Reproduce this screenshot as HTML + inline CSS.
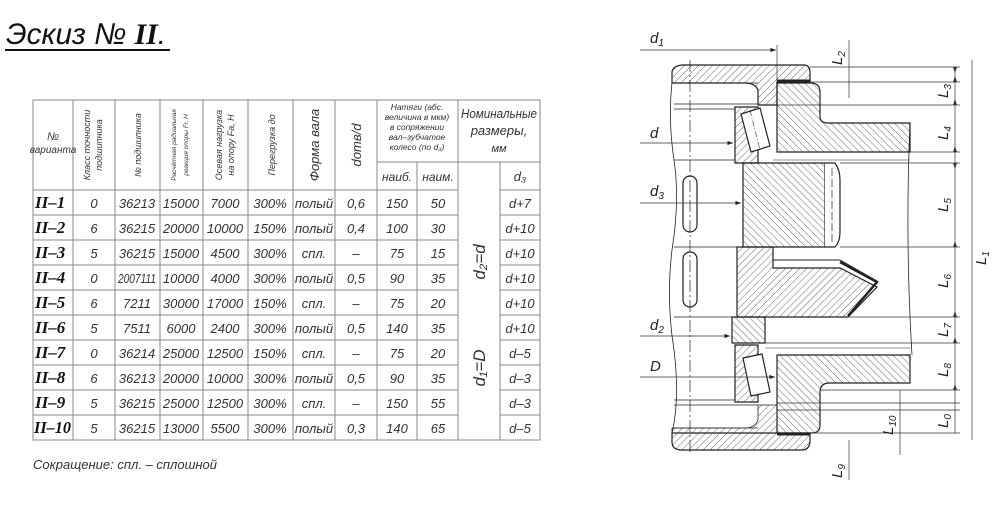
<!DOCTYPE html>
<html><head><meta charset="utf-8"><style>
html,body{margin:0;padding:0;background:#fff;}
svg{display:block;font-family:"Liberation Sans","DejaVu Sans",sans-serif;}
.h{font-style:italic;fill:#333;text-anchor:middle;}
.r{font-family:"Liberation Serif",serif;font-weight:bold;font-style:italic;font-size:17px;fill:#111;text-anchor:start;}
</style></head><body>
<svg width="1000" height="509" viewBox="0 0 1000 509" xmlns="http://www.w3.org/2000/svg">
<defs>
<pattern id="ha" width="5" height="5" patternUnits="userSpaceOnUse" patternTransform="rotate(45)"><line x1="0" y1="0" x2="0" y2="5" stroke="#444" stroke-width="0.8"/></pattern>
<pattern id="hb" width="5" height="5" patternUnits="userSpaceOnUse" patternTransform="rotate(-45)"><line x1="0" y1="0" x2="0" y2="5" stroke="#444" stroke-width="0.8"/></pattern>
<marker id="ar" markerWidth="8" markerHeight="6" refX="8" refY="3" orient="auto"><path d="M0,0 L8,3 L0,6z" fill="#222"/></marker>
</defs>
<!-- Title -->
<text x="6" y="44" font-style="italic" font-size="30" fill="#111" textLength="160" lengthAdjust="spacingAndGlyphs">Эскиз № <tspan font-family="Liberation Serif" font-weight="bold">II</tspan>.</text>
<line x1="5" y1="50" x2="170" y2="50" stroke="#111" stroke-width="2"/>

<!-- Table -->
<g stroke="#888" stroke-width="1" fill="none">
<rect x="33" y="100" width="507" height="340"/>
<line x1="73" y1="100" x2="73" y2="440"/><line x1="115" y1="100" x2="115" y2="440"/>
<line x1="160" y1="100" x2="160" y2="440"/><line x1="203" y1="100" x2="203" y2="440"/>
<line x1="248" y1="100" x2="248" y2="440"/><line x1="293" y1="100" x2="293" y2="440"/>
<line x1="335" y1="100" x2="335" y2="440"/><line x1="377" y1="100" x2="377" y2="440"/>
<line x1="417" y1="162" x2="417" y2="440"/><line x1="458" y1="100" x2="458" y2="440"/>
<line x1="500" y1="162" x2="500" y2="440"/>
<line x1="377" y1="162" x2="540" y2="162"/>
<line x1="33" y1="190" x2="458" y2="190"/><line x1="500" y1="190" x2="540" y2="190"/>
<line x1="33" y1="215" x2="458" y2="215"/><line x1="500" y1="215" x2="540" y2="215"/>
<line x1="33" y1="240" x2="458" y2="240"/><line x1="500" y1="240" x2="540" y2="240"/>
<line x1="33" y1="265" x2="458" y2="265"/><line x1="500" y1="265" x2="540" y2="265"/>
<line x1="33" y1="290" x2="458" y2="290"/><line x1="500" y1="290" x2="540" y2="290"/>
<line x1="33" y1="315" x2="458" y2="315"/><line x1="500" y1="315" x2="540" y2="315"/>
<line x1="33" y1="340" x2="458" y2="340"/><line x1="500" y1="340" x2="540" y2="340"/>
<line x1="33" y1="365" x2="458" y2="365"/><line x1="500" y1="365" x2="540" y2="365"/>
<line x1="33" y1="390" x2="458" y2="390"/><line x1="500" y1="390" x2="540" y2="390"/>
<line x1="33" y1="415" x2="458" y2="415"/><line x1="500" y1="415" x2="540" y2="415"/>
</g>
<!-- headers -->
<text class="h" font-size="11" x="53" y="140">№</text>
<text class="h" font-size="10" x="53" y="153">варианта</text>
<text class="h" font-size="9" transform="translate(90,145) rotate(-90)">Класс точности</text>
<text class="h" font-size="9" transform="translate(102,145) rotate(-90)">подшипника</text>
<text class="h" font-size="9" transform="translate(141,145) rotate(-90)">№ подшипника</text>
<text class="h" font-size="6.5" transform="translate(176,145) rotate(-90)">Расчётная радиальная</text>
<text class="h" font-size="6.5" transform="translate(188,145) rotate(-90)">реакция опоры Fr, Н</text>
<text class="h" font-size="9" transform="translate(222,145) rotate(-90)">Осевая нагрузка</text>
<text class="h" font-size="9" transform="translate(234,145) rotate(-90)">на опору Fa, Н</text>
<text class="h" font-size="9" transform="translate(275,145) rotate(-90)">Перегрузка до</text>
<text class="h" font-size="13" transform="translate(319,145) rotate(-90)">Форма вала</text>
<text class="h" font-size="13" transform="translate(361,145) rotate(-90)">dотв/d</text>
<text class="h" font-size="8.5" x="417" y="110">Натяги (абс.</text>
<text class="h" font-size="8.5" x="417" y="120">величина в мкм)</text>
<text class="h" font-size="8.5" x="417" y="130">в сопряжении</text>
<text class="h" font-size="8.5" x="417" y="140">вал–зубчатое</text>
<text class="h" font-size="8.5" x="417" y="150">колесо (по d₃)</text>
<text class="h" font-size="13" x="499" y="118" textLength="76" lengthAdjust="spacingAndGlyphs">Номинальные</text>
<text class="h" font-size="13" x="499" y="135">размеры,</text>
<text class="h" font-size="11" x="499" y="152">мм</text>
<text class="h" font-size="12" x="397" y="181">наиб.</text>
<text class="h" font-size="12" x="438" y="181">наим.</text>
<text class="h" font-size="13" x="520" y="181">d₃</text>
<text class="h" font-size="17" transform="translate(485,262) rotate(-90)">d₂=d</text>
<text class="h" font-size="17" transform="translate(485,368) rotate(-90)">d₁=D</text>

<g font-style="italic" font-size="13" fill="#333" text-anchor="middle">
<text class="r" x="35" y="208">II–1</text><text x="94" y="208">0</text><text x="137" y="208">36213</text><text x="181" y="208">15000</text><text x="225" y="208">7000</text><text x="270" y="208">300%</text><text x="314" y="208">полый</text><text x="356" y="208">0,6</text><text x="397" y="208">150</text><text x="438" y="208">50</text><text x="520" y="208">d+7</text>
<text class="r" x="35" y="233">II–2</text><text x="94" y="233">6</text><text x="137" y="233">36215</text><text x="181" y="233">20000</text><text x="225" y="233">10000</text><text x="270" y="233">150%</text><text x="314" y="233">полый</text><text x="356" y="233">0,4</text><text x="397" y="233">100</text><text x="438" y="233">30</text><text x="520" y="233">d+10</text>
<text class="r" x="35" y="258">II–3</text><text x="94" y="258">5</text><text x="137" y="258">36215</text><text x="181" y="258">15000</text><text x="225" y="258">4500</text><text x="270" y="258">300%</text><text x="314" y="258">спл.</text><text x="356" y="258">–</text><text x="397" y="258">75</text><text x="438" y="258">15</text><text x="520" y="258">d+10</text>
<text class="r" x="35" y="283">II–4</text><text x="94" y="283">0</text><text x="137" y="283" textLength="38" lengthAdjust="spacingAndGlyphs">2007111</text><text x="181" y="283">10000</text><text x="225" y="283">4000</text><text x="270" y="283">300%</text><text x="314" y="283">полый</text><text x="356" y="283">0,5</text><text x="397" y="283">90</text><text x="438" y="283">35</text><text x="520" y="283">d+10</text>
<text class="r" x="35" y="308">II–5</text><text x="94" y="308">6</text><text x="137" y="308">7211</text><text x="181" y="308">30000</text><text x="225" y="308">17000</text><text x="270" y="308">150%</text><text x="314" y="308">спл.</text><text x="356" y="308">–</text><text x="397" y="308">75</text><text x="438" y="308">20</text><text x="520" y="308">d+10</text>
<text class="r" x="35" y="333">II–6</text><text x="94" y="333">5</text><text x="137" y="333">7511</text><text x="181" y="333">6000</text><text x="225" y="333">2400</text><text x="270" y="333">300%</text><text x="314" y="333">полый</text><text x="356" y="333">0,5</text><text x="397" y="333">140</text><text x="438" y="333">35</text><text x="520" y="333">d+10</text>
<text class="r" x="35" y="358">II–7</text><text x="94" y="358">0</text><text x="137" y="358">36214</text><text x="181" y="358">25000</text><text x="225" y="358">12500</text><text x="270" y="358">150%</text><text x="314" y="358">спл.</text><text x="356" y="358">–</text><text x="397" y="358">75</text><text x="438" y="358">20</text><text x="520" y="358">d–5</text>
<text class="r" x="35" y="383">II–8</text><text x="94" y="383">6</text><text x="137" y="383">36213</text><text x="181" y="383">20000</text><text x="225" y="383">10000</text><text x="270" y="383">300%</text><text x="314" y="383">полый</text><text x="356" y="383">0,5</text><text x="397" y="383">90</text><text x="438" y="383">35</text><text x="520" y="383">d–3</text>
<text class="r" x="35" y="408">II–9</text><text x="94" y="408">5</text><text x="137" y="408">36215</text><text x="181" y="408">25000</text><text x="225" y="408">12500</text><text x="270" y="408">300%</text><text x="314" y="408">спл.</text><text x="356" y="408">–</text><text x="397" y="408">150</text><text x="438" y="408">55</text><text x="520" y="408">d–3</text>
<text class="r" x="34" y="433" textLength="37" lengthAdjust="spacingAndGlyphs">II–10</text><text x="94" y="433">5</text><text x="137" y="433">36215</text><text x="181" y="433">13000</text><text x="225" y="433">5500</text><text x="270" y="433">300%</text><text x="314" y="433">полый</text><text x="356" y="433">0,3</text><text x="397" y="433">140</text><text x="438" y="433">65</text><text x="520" y="433">d–5</text>
</g>
<text x="33" y="469" font-style="italic" font-size="13" fill="#333">Сокращение: спл. – сплошной</text>

<!-- Drawing -->
<g stroke="#222" stroke-width="1.2" fill="none">
<path d="M672,82 Q668,120 674,160 Q680,200 672,250 Q666,300 674,350 Q680,400 672,433" stroke-width="0.8"/>
<line x1="690" y1="60" x2="690" y2="455" stroke-dasharray="12,3,2,3" stroke-width="0.7"/>
<line x1="674" y1="104" x2="758" y2="104" stroke-width="0.8"/>
<line x1="674" y1="109" x2="735" y2="109" stroke-width="0.8"/>
<line x1="674" y1="160" x2="735" y2="160" stroke-width="0.8"/>
<line x1="674" y1="247" x2="737" y2="247" stroke-width="0.8"/>
<line x1="674" y1="317" x2="732" y2="317" stroke-width="0.8"/>
<line x1="674" y1="400" x2="735" y2="400" stroke-width="0.8"/>
<line x1="674" y1="405" x2="758" y2="405" stroke-width="0.8"/>
<line x1="674" y1="83" x2="758" y2="83" stroke-width="0.8"/>
<line x1="674" y1="428" x2="758" y2="428" stroke-width="0.8"/>
<rect x="683" y="176" width="14" height="56" rx="7"/>
<rect x="683" y="252" width="14" height="55" rx="7"/>
<path d="M682,65 L805,65 Q810,66 810,72 L810,82 L777,82 L777,105 L758,105 L758,90 Q755,83 745,83 L672,83 L672,72 Q673,66 682,65Z" fill="url(#ha)"/>
<line x1="777" y1="81" x2="810" y2="81" stroke-width="3"/>
<path d="M777,83 L812,83 Q820,84 820,92 L820,118 Q821,123 828,123 L910,123 L910,152 L777,152Z" fill="url(#hb)"/>
<path d="M735,107 L758,107 L758,163 L735,163Z" fill="url(#ha)"/>
<path d="M741,114 L760,108 L770,146 L751,152Z" fill="#fff"/>
<line x1="750" y1="110" x2="760" y2="150" stroke-dasharray="6,2,1,2" stroke-width="0.6"/>
<path d="M743,163 L825,163 L825,247 L743,247Z" fill="url(#hb)"/>
<path d="M825,163 L835,163 Q840,170 840,180 L840,232 Q840,242 835,247 L825,247" fill="#fff"/>
<line x1="832" y1="168" x2="832" y2="243" stroke-dasharray="8,3" stroke-width="0.7"/>
<path d="M737,247 L773,247 L773,268 L840,268 L877,287 L848,317 L737,317Z" fill="url(#ha)"/>
<path d="M773,260 L840,260 L877,281" stroke-width="1"/>
<path d="M840,262 L877,282 L848,316" stroke-width="2.5"/>
<path d="M732,317 L765,317 L765,343 L732,343Z" fill="url(#hb)"/>
<path d="M735,345 L758,345 L758,402 L735,402Z" fill="url(#ha)"/>
<path d="M743,358 L762,354 L770,392 L751,396Z" fill="#fff"/>
<path d="M777,355 L910,355 L910,383 L828,383 Q820,384 820,392 L820,425 Q820,433 812,433 L777,433Z" fill="url(#hb)"/>
<path d="M672,433 L777,433 L777,405 L758,405 L758,420 Q755,428 745,428 L672,428Z" fill="url(#ha)" stroke-width="0.8"/>
<path d="M672,433 L810,433 L810,442 Q809,450 802,450 L682,450 Q672,450 672,442Z" fill="url(#ha)"/>
<line x1="777" y1="434" x2="810" y2="434" stroke-width="3"/>
<path d="M910,123 Q905,240 912,355" stroke-width="0.8"/>
<line x1="773" y1="160" x2="910" y2="160" stroke-width="0.6"/>
<line x1="765" y1="348" x2="910" y2="348" stroke-width="0.6"/>
</g>
<g stroke="#333" stroke-width="0.7" fill="none">
<line x1="810" y1="67" x2="960" y2="67"/><line x1="810" y1="82" x2="960" y2="82"/>
<line x1="777" y1="105" x2="960" y2="105"/><line x1="910" y1="152" x2="960" y2="152"/>
<line x1="840" y1="163" x2="960" y2="163"/><line x1="840" y1="247" x2="960" y2="247"/>
<line x1="848" y1="317" x2="960" y2="317"/><line x1="765" y1="343" x2="960" y2="343"/>
<line x1="820" y1="390" x2="960" y2="390"/><line x1="777" y1="403" x2="960" y2="403"/>
<line x1="777" y1="410" x2="960" y2="410"/><line x1="810" y1="433" x2="960" y2="433"/>
<line x1="955" y1="67" x2="955" y2="433"/><line x1="972" y1="60" x2="972" y2="440"/>
<line x1="849" y1="40" x2="849" y2="98"/><line x1="849" y1="440" x2="849" y2="480"/>
<line x1="900" y1="390" x2="900" y2="455"/>
<line x1="640" y1="50" x2="776" y2="50" marker-end="url(#ar)"/>
<line x1="777" y1="45" x2="777" y2="82"/>
<line x1="640" y1="143" x2="733" y2="143" marker-end="url(#ar)"/>
<line x1="640" y1="203" x2="741" y2="203" marker-end="url(#ar)"/>
<line x1="640" y1="336" x2="730" y2="336" marker-end="url(#ar)"/>
<line x1="640" y1="377" x2="775" y2="377" marker-end="url(#ar)"/>
</g>
<g fill="#333">
<path d="M953,152l2,-6l2,6z M953,163l2,6l2,-6z M953,247l2,-6l2,6z M953,317l2,-6l2,6z M953,343l2,-6l2,6z M953,390l2,-6l2,6z M953,105l2,-6l2,6z M953,82l2,-6l2,6z M953,67l2,6l2,-6z"/>
</g>
<g font-style="italic" font-size="15" fill="#222">
<text x="650" y="43">d<tspan font-size="10" dy="3">1</tspan></text>
<text x="650" y="138">d</text>
<text x="650" y="196">d<tspan font-size="10" dy="3">3</tspan></text>
<text x="650" y="330">d<tspan font-size="10" dy="3">2</tspan></text>
<text x="650" y="371">D</text>
<text transform="translate(842,65) rotate(-90)">L<tspan font-size="10" dy="3">2</tspan></text>
<text transform="translate(948,98) rotate(-90)">L<tspan font-size="10" dy="3">3</tspan></text>
<text transform="translate(948,140) rotate(-90)">L<tspan font-size="10" dy="3">4</tspan></text>
<text transform="translate(948,212) rotate(-90)">L<tspan font-size="10" dy="3">5</tspan></text>
<text transform="translate(948,288) rotate(-90)">L<tspan font-size="10" dy="3">6</tspan></text>
<text transform="translate(948,337) rotate(-90)">L<tspan font-size="10" dy="3">7</tspan></text>
<text transform="translate(948,377) rotate(-90)">L<tspan font-size="10" dy="3">8</tspan></text>
<text transform="translate(948,428) rotate(-90)">L<tspan font-size="10" dy="3">0</tspan></text>
<text transform="translate(986,265) rotate(-90)">L<tspan font-size="10" dy="3">1</tspan></text>
<text transform="translate(893,435) rotate(-90)">L<tspan font-size="10" dy="3">10</tspan></text>
<text transform="translate(842,478) rotate(-90)">L<tspan font-size="10" dy="3">9</tspan></text>
</g>
</svg>
</body></html>
